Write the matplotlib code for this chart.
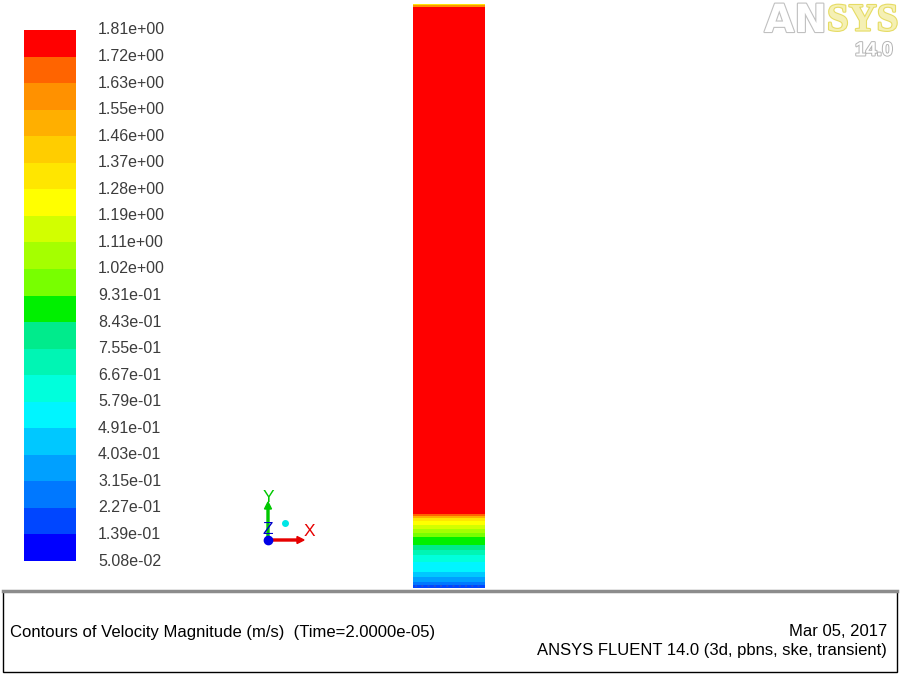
import matplotlib.pyplot as plt
import matplotlib.patheffects as pe
from matplotlib.colors import ListedColormap, BoundaryNorm
from matplotlib.patches import Rectangle, FancyArrow

plt.rcParams['font.family'] = ['Liberation Sans', 'DejaVu Sans']

# colour scale levels (m/s), bottom to top
levels = [5.08e-02, 1.39e-01, 2.27e-01, 3.15e-01, 4.03e-01, 4.91e-01, 5.79e-01,
          6.67e-01, 7.55e-01, 8.43e-01, 9.31e-01, 1.02, 1.11, 1.19, 1.28, 1.37,
          1.46, 1.55, 1.63, 1.72, 1.81]
band_colors = ['#0000ff', '#0046ff', '#0078ff', '#00a0ff', '#00c8ff', '#00f5ff',
               '#00ffdc', '#00f5b4', '#00eb8c', '#00f000', '#78ff00', '#a5ff00',
               '#d2ff00', '#ffff00', '#ffe600', '#ffcd00', '#ffaf00', '#ff9100',
               '#ff6400', '#ff0000']

# column: height edges (mm, bottom to top) and velocity in each layer
col_width = 12.33
z_edges = [0, 0.51, 1.03, 1.88, 2.74, 4.45, 5.65, 6.51, 7.36, 8.73, 9.42, 10.10,
           10.79, 11.47, 11.99, 12.33, 12.67, 99.49, 99.83, 100.0]
velocity = [0.18, 0.27, 0.36, 0.45, 0.53, 0.62, 0.71, 0.80, 0.89, 0.98, 1.06,
            1.15, 1.24, 1.33, 1.50, 1.65, 1.78, 1.60, 1.30]

cmap = ListedColormap(band_colors)
norm = BoundaryNorm(levels, cmap.N)

W, H = 900, 675
fig = plt.figure(figsize=(9, 6.75), dpi=100)


def px_axes(x0, y0, x1, y1):
    # axes from pixel box (top-left origin)
    return fig.add_axes([x0 / W, 1 - y1 / H, (x1 - x0) / W, (y1 - y0) / H])


# contour column
ax = px_axes(413, 4, 485, 588)
vals = [[v] for v in velocity]
ax.pcolormesh([0, col_width], z_edges, vals, cmap=cmap, norm=norm, shading='flat')
ax.plot([0.3, col_width - 0.3], [0.3, 0.3], color='#1e50dc', lw=1.5,
        ls=(0, (1, 2)))
ax.set_xlim(0, col_width)
ax.set_ylim(0, 100)
ax.axis('off')

# colour bar, one equal-height band per level interval
cax = px_axes(24, 30, 76, 561)
nb = len(band_colors)
cax.pcolormesh([0, 1], list(range(nb + 1)), [[i] for i in range(nb)],
               cmap=cmap, vmin=-0.5, vmax=nb - 0.5, shading='flat')
cax.set_xlim(0, 1)
cax.set_ylim(0, nb)
cax.axis('off')
for i, v in enumerate(levels):
    cax.text((98 - 24) / 52, i, f"{v:.2e}", transform=cax.transData,
             ha='left', va='center', fontsize=11.5, color='#3c3c3c')

# overlay in pixel coordinates
ov = fig.add_axes([0, 0, 1, 1])
ov.set_xlim(0, W)
ov.set_ylim(H, 0)
ov.axis('off')
ov.patch.set_alpha(0)

# axis triad
ov.add_patch(FancyArrow(268, 540, 0, -38, width=2, head_width=7, head_length=7,
                        color='#00c800', length_includes_head=True))
ov.add_patch(FancyArrow(268, 540, 36, 0, width=2, head_width=7, head_length=7,
                        color='#e60000', length_includes_head=True))
ov.text(268, 497, 'Y', color='#00c800', fontsize=12.5, ha='center', va='center')
ov.text(309, 531, 'X', color='#e60000', fontsize=12.5, ha='center', va='center')
ov.text(268, 529, 'Z', color='#0000c8', fontsize=12.5, ha='center', va='center')
ov.plot(268, 540, 'o', color='#0000e6', ms=6)
ov.plot(285, 523, 'o', color='#00e6e6', ms=4)

# logo
ov.text(827, 21, 'AN', fontsize=28, fontweight='bold', ha='right', va='center',
        color='white', family='DejaVu Sans',
        path_effects=[pe.Stroke(linewidth=1.6, foreground='#c0c0c0'), pe.Normal()])
ov.text(827, 21, 'SYS', fontsize=28, fontweight='bold', ha='left', va='center',
        color='#f5f0b4', family='Liberation Serif',
        path_effects=[pe.Stroke(linewidth=1.6, foreground='#e6dc64'), pe.Normal()])
ov.text(893, 51, '14.0', fontsize=14, fontweight='bold', ha='right', va='center',
        color='white',
        path_effects=[pe.Stroke(linewidth=1.4, foreground='#b4b4b4'), pe.Normal()])

# title box
ov.add_patch(Rectangle((3, 591), 894, 81, fill=False, edgecolor='black', lw=1))
ov.plot([3, 897], [591, 591], color='#8c8c8c', lw=2.5)
ov.text(10, 632, 'Contours of Velocity Magnitude (m/s)  (Time=2.0000e-05)',
        fontsize=12, ha='left', va='center', color='black')
ov.text(887, 632, 'Mar 05, 2017', fontsize=12, ha='right', va='center',
        color='black')
ov.text(887, 651, 'ANSYS FLUENT 14.0 (3d, pbns, ske, transient)', fontsize=12,
        ha='right', va='center', color='black')

fig.savefig('out.png', dpi=100, facecolor='white')
